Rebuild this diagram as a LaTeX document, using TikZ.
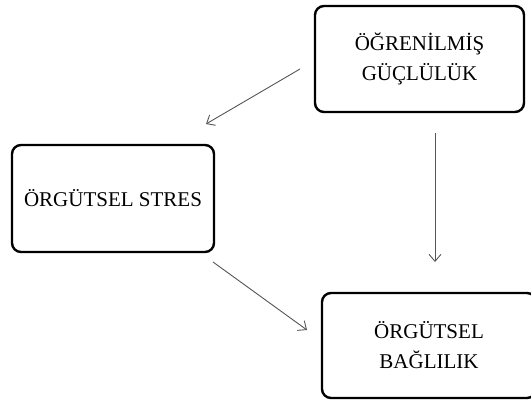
\documentclass[tikz,border=0pt]{standalone}
\usepackage{fontspec}
\setmainfont{Liberation Serif}
\usepackage{tikz}
\usetikzlibrary{arrows.meta,positioning}
\definecolor{ArrGray}{RGB}{85,85,85}

\begin{document}
\begin{tikzpicture}[x=1bp, y=-1bp,
	kutu/.style={draw, line width=2.4bp, rounded corners=9bp, align=center,
		font=\fontsize{21bp}{30bp}\selectfont, inner sep=0pt},
	ok/.style={-{Straight Barb[length=7bp, width=12bp]}, ArrGray, line width=0.9bp}]
		\useasboundingbox (0,0) rectangle (531,401);
		\node[kutu, minimum width=209bp, minimum height=106bp] (guc) at (419.5,59)
			{ÖĞRENİLMİŞ\\ GÜÇLÜLÜK};
		\node[kutu, minimum width=202bp, minimum height=107bp] (stres) at (113,198.5)
			{ÖRGÜTSEL STRES};
		\node[kutu, minimum width=214bp, minimum height=105bp] (bag) at (429,345.5)
			{ÖRGÜTSEL\\ BAĞLILIK};
		\coordinate (G1) at (300,69);
		\coordinate (S1) at (206,124);
		\coordinate (G2) at (435,133);
		\coordinate (B2) at (435,262);
		\coordinate (S3) at (213,262);
		\coordinate (B3) at (307,330);
		\draw[ok] (G1)--(S1);
		\draw[ok] (G2)--(B2);
		\draw[ok] (S3)--(B3);
	\end{tikzpicture}
\end{document}
